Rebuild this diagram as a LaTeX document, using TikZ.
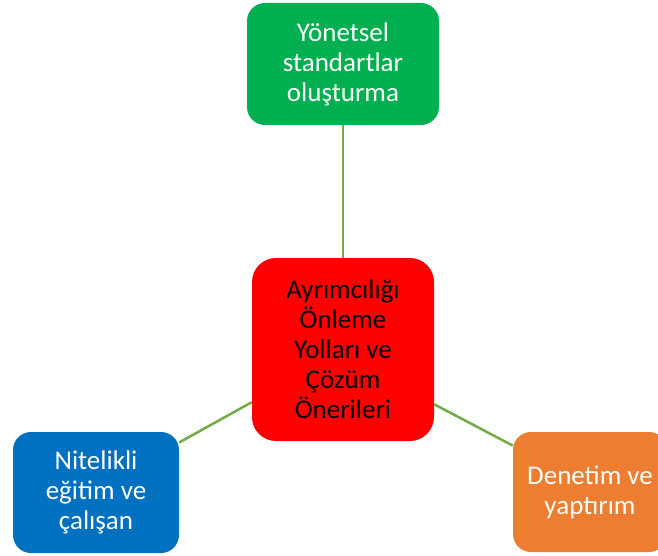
\documentclass[tikz,border=0pt]{standalone}
\usepackage{fontspec}
\setmainfont{Carlito}
\definecolor{cgreen}{HTML}{00B050}
\definecolor{cred}{HTML}{FF0000}
\definecolor{cblue}{HTML}{0070C0}
\definecolor{corange}{HTML}{ED7D31}
\definecolor{cline}{HTML}{70AD47}
\begin{document}
\begin{tikzpicture}[x=1pt,y=-1pt,
  box/.style={rectangle,rounded corners=18pt,align=center,inner sep=0pt,
    font=\fontsize{27}{30}\selectfont},
  link/.style={draw=cline,line width=2.5pt}]
\useasboundingbox (0,0) rectangle (658,556);
\node[box,fill=cgreen,text=white,minimum width=192pt,minimum height=122pt] (top) at (343,64) {Yönetsel\\standartlar\\oluşturma};
\node[box,fill=cred,text=black,rounded corners=24pt,minimum width=182pt,minimum height=183pt] (mid) at (343,349.5) {Ayrımcılığı\\Önleme\\Yolları ve\\Çözüm\\Önerileri};
\node[box,fill=cblue,text=white,minimum width=166pt,minimum height=121pt] (left) at (96,492.5) {Nitelikli\\eğitim ve\\çalışan};
\node[box,fill=corange,text=white,minimum width=154pt,minimum height=120pt] (right) at (590,492) {Denetim ve\\yaptırım};
\draw[link] (top.south) -- (mid.north);
\draw[link] (mid.210) -- (left.31);
\draw[link] (mid.329.5) -- (right.149);
\end{tikzpicture}
\end{document}
